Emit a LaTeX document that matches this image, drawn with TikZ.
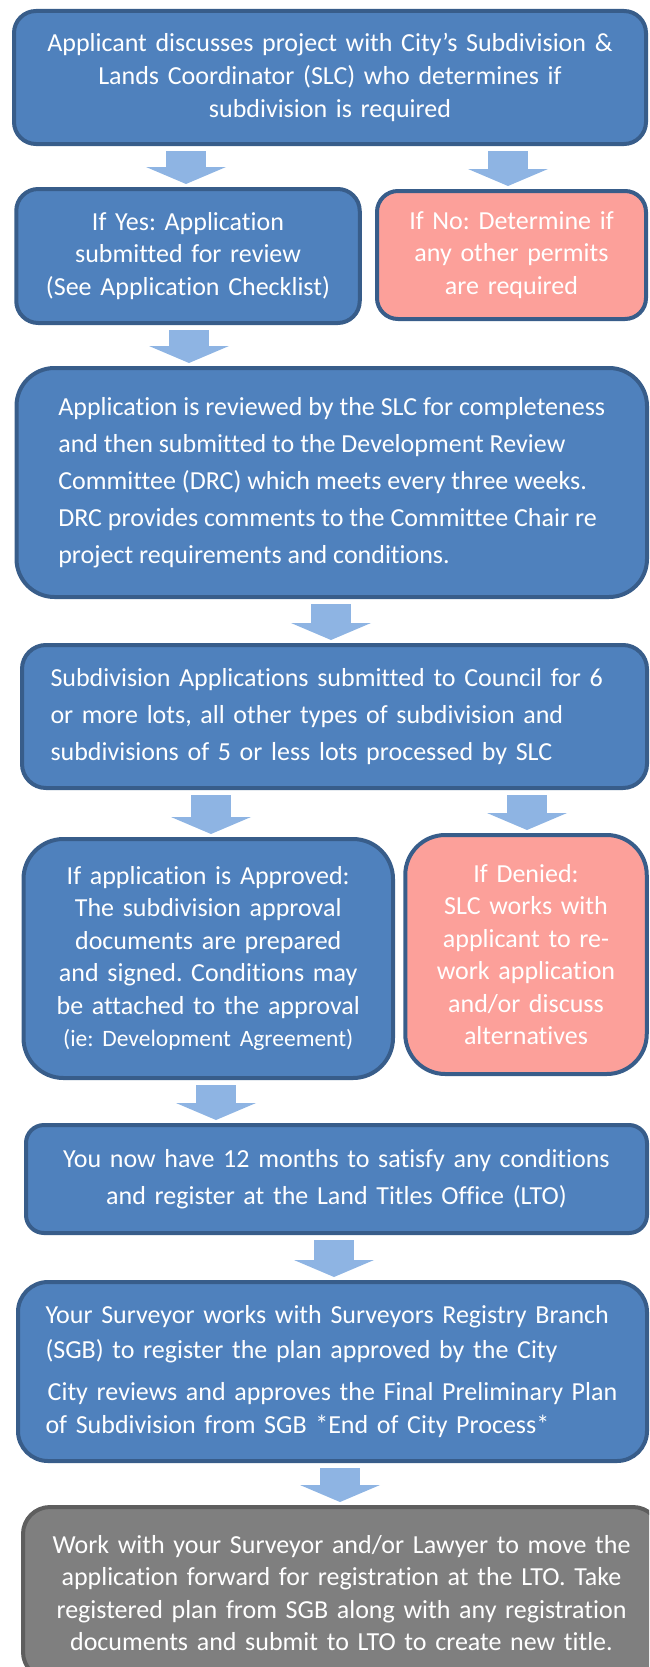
\documentclass[tikz,border=0pt]{standalone}
\usepackage{fontspec}
\setmainfont{Carlito}[Ligatures=NoCommon]
\frenchspacing
\setlength\parindent{0pt}
\usetikzlibrary{arrows.meta}
\definecolor{boxblue}{HTML}{4F81BD}
\definecolor{boxline}{HTML}{385D8A}
\definecolor{denypink}{HTML}{FCA09A}
\definecolor{endgray}{HTML}{7F7F7F}
\definecolor{endline}{HTML}{5E5E5E}
\definecolor{arrowblue}{HTML}{8EB4E3}
\begin{document}
\begin{tikzpicture}[x=1pt,y=-1pt,
    box/.style={draw=boxline, line width=4pt, fill=boxblue, text=white, inner sep=0pt,
                align=center, font=\fontsize{26}{32.5}\selectfont},
    roomy/.style={font=\fontsize{26}{37}\selectfont},
    nobox/.style={box, fill=denypink},
    endbox/.style={box, fill=endgray, draw=endline},
    flow/.style={draw=arrowblue, line width=40pt, shorten <=5pt, shorten >=3pt,
                 -{Triangle[length=17pt,width=80pt,line width=0pt]}}]
    \useasboundingbox (0,0) rectangle (649,1667);
    \clip (0,0) rectangle (649,1667);
    \node[box, font=\fontsize{26}{33}\selectfont, minimum width=632pt, minimum height=133pt, rounded corners=22pt, text width=620pt] (app) at (330,77.5)
        {Applicant discusses project with City’s Subdivision \&\\Lands Coordinator (SLC) who determines if\\subdivision is required};
    \node[box, minimum width=343.5pt, minimum height=134pt, rounded corners=22pt, text width=335pt] (yes) at (188,256)
        {If Yes: Application\\submitted for review\\(See Application Checklist)};
    \node[nobox, minimum width=269pt, minimum height=128pt, rounded corners=21pt, text width=260pt] (no) at (511.5,255)
        {If No: Determine if\\any other permits\\are required};
    \node[box, roomy, minimum width=630.5pt, minimum height=229pt, rounded corners=38pt, align=left] (review) at (331.75,482.5)
        {Application is reviewed by the SLC for completeness\\and then submitted to the Development Review\\Committee (DRC) which meets every three weeks.\\DRC provides comments to the Committee Chair re\\project requirements and conditions.};
    \node[box, roomy, minimum width=625pt, minimum height=143pt, rounded corners=24pt, text width=568pt, align=left] (council) at (334.5,716.5)
        {Subdivision Applications submitted to Council for 6\\or more lots, all other types of subdivision and\\subdivisions of 5 or less lots processed by SLC};
    \node[box, minimum width=369.5pt, minimum height=239pt, rounded corners=40pt, text width=360pt] (approved) at (208.25,958.5)
        {If application is Approved:\\The subdivision approval\\documents are prepared\\and signed. Conditions may\\be attached to the approval\\{\fontsize{23.5}{32.5}\selectfont (ie: Development Agreement)}};
    \node[nobox, minimum width=241.5pt, minimum height=239pt, rounded corners=40pt, text width=235pt] (denied) at (526,954.5)
        {If Denied:\\SLC works with\\applicant to re-\\work application\\and/or discuss\\alternatives};
    \node[box, roomy, minimum width=621pt, minimum height=108pt, rounded corners=18pt, text width=610pt] (months) at (336.5,1179)
        {You now have 12 months to satisfy any conditions\\and register at the Land Titles Office (LTO)};
    \node[box, minimum width=629pt, minimum height=179pt, rounded corners=30pt, text width=574pt, align=left] (surveyor) at (332.5,1371.5)
        {\fontsize{26}{35}\selectfont Your Surveyor works with Surveyors Registry Branch\\(SGB) to register the plan approved by the City\par
         \vspace{9.5pt}\fontsize{26}{32.5}\selectfont\centering City reviews and approves the Final Preliminary Plan\\of Subdivision from SGB *End of City Process*};
    \node[endbox, minimum width=637pt, minimum height=172pt, rounded corners=27pt, text width=620pt] (lto) at (341.5,1593)
        {Work with your Surveyor and/or Lawyer to move the\\application forward for registration at the LTO. Take\\registered plan from SGB along with any registration\\documents and submit to LTO to create new title.};
    \draw[flow] (186,0 |- app.south) -- (186,0 |- yes.north);
    \draw[flow] (508,0 |- app.south) -- (508,0 |- no.north);
    \draw[flow] (189,0 |- yes.south) -- (189,0 |- review.north);
    \draw[flow] (331,0 |- review.south) -- (331,0 |- council.north);
    \draw[flow] (211,0 |- council.south) -- (211,0 |- approved.north);
    \draw[flow] (527,0 |- council.south) -- (527,0 |- denied.north);
    \draw[flow] (216,0 |- approved.south) -- (216,0 |- months.north);
    \draw[flow] (334,0 |- months.south) -- (334,0 |- surveyor.north);
    \draw[flow] (340,0 |- surveyor.south) -- (340,0 |- lto.north);
\end{tikzpicture}
\end{document}
